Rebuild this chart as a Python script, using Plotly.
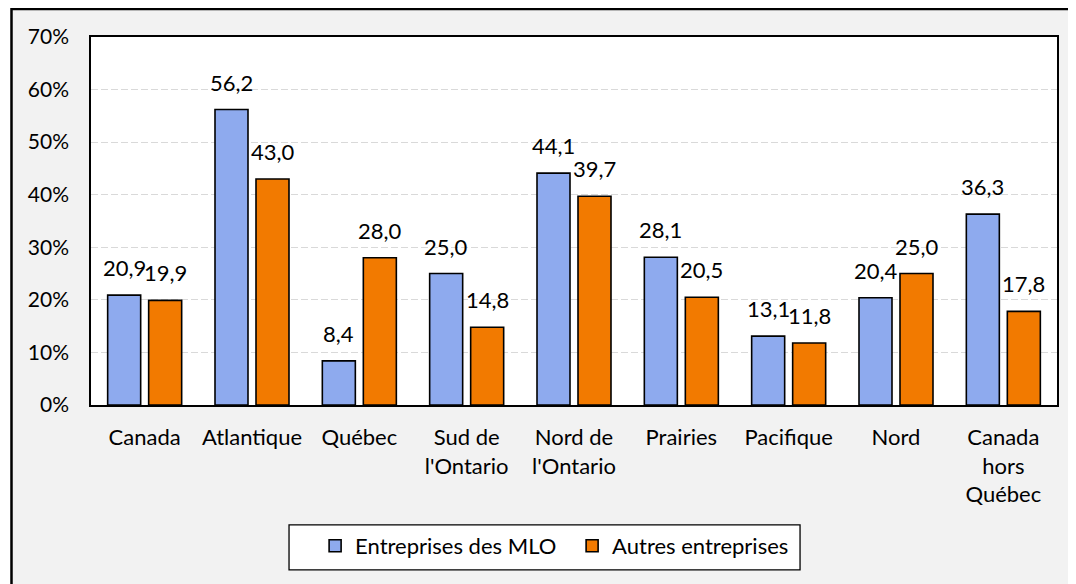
import plotly.graph_objects as go

# categories and values (percent)
regions = [
    "Canada", "Atlantique", "Québec", "Sud de<br>l'Ontario", "Nord de<br>l'Ontario",
    "Prairies", "Pacifique", "Nord", "Canada<br>hors<br>Québec",
]
mlo = [20.9, 56.2, 8.4, 25.0, 44.1, 28.1, 13.1, 20.4, 36.3]
autres = [19.9, 43.0, 28.0, 14.8, 39.7, 20.5, 11.8, 25.0, 17.8]
y_ticks = [0, 10, 20, 30, 40, 50, 60, 70]

BLEU = "#8eaaee"
ORANGE = "#f27a00"
POLICE = "Lato"
TAILLE = 22

fig = go.Figure()
for nom, valeurs, couleur in (
    ("Entreprises des MLO", mlo, BLEU),
    ("Autres entreprises", autres, ORANGE),
):
    fig.add_trace(
        go.Bar(
            x=regions,
            y=valeurs,
            name=nom,
            marker={"color": couleur, "line": {"color": "black", "width": 1.6}},
        )
    )

# data labels above each bar
for valeurs, decalage in ((mlo, -20.5), (autres, 20.5)):
    for region, v in zip(regions, valeurs):
        fig.add_annotation(
            x=region, y=v, text=f"{v:.1f}".replace(".", ","),
            showarrow=False, xshift=decalage, yanchor="bottom", yshift=12,
            font={"family": POLICE, "size": TAILLE, "color": "black"},
        )

# outer grey frame, white plot area, legend box
fig.add_shape(
    type="rect", xref="paper", yref="paper", x0=-0.0823, x1=1.2, y0=-0.7, y1=1.076,
    fillcolor="#f2f2f2", line={"color": "black", "width": 2.5}, layer="below",
)
fig.add_shape(
    type="rect", xref="paper", yref="paper", x0=0, x1=1, y0=0, y1=1,
    fillcolor="white", line={"width": 0}, layer="below",
)
fig.add_shape(
    type="rect", xref="paper", yref="paper", x0=0.205, x1=0.734, y0=-0.448, y1=-0.326,
    fillcolor="white", line={"color": "black", "width": 1.3}, layer="below",
)

fig.update_layout(
    width=1068,
    height=576,
    margin={"l": 83, "r": 19, "t": 29, "b": 179},
    paper_bgcolor="white",
    plot_bgcolor="white",
    barmode="group",
    bargap=0.236,
    bargroupgap=0.195,
    font={"family": POLICE, "size": TAILLE, "color": "black"},
    showlegend=True,
    legend={
        "orientation": "h",
        "x": 0.232,
        "xanchor": "left",
        "y": -0.326,
        "yanchor": "top",
        "bgcolor": "rgba(0,0,0,0)",
        "borderwidth": 0,
        "font": {"size": TAILLE},
        "itemwidth": 30,
        "entrywidth": 212,
    },
)
fig.update_yaxes(
    range=[0, 70],
    tickvals=y_ticks,
    ticktext=[f"{t}%" for t in y_ticks],
    tickfont={"size": 21},
    showgrid=True,
    gridcolor="#d9d9d9",
    griddash="7px,3px",
    gridwidth=1.2,
    showline=True,
    linecolor="black",
    linewidth=1.6,
    mirror=True,
    ticks="",
    ticklabelstandoff=16,
    zeroline=False,
)
fig.update_xaxes(
    showline=True,
    linecolor="black",
    linewidth=1.6,
    mirror=True,
    ticks="",
    ticklabelstandoff=12,
    tickangle=0,
)

fig.write_html("out.html")
